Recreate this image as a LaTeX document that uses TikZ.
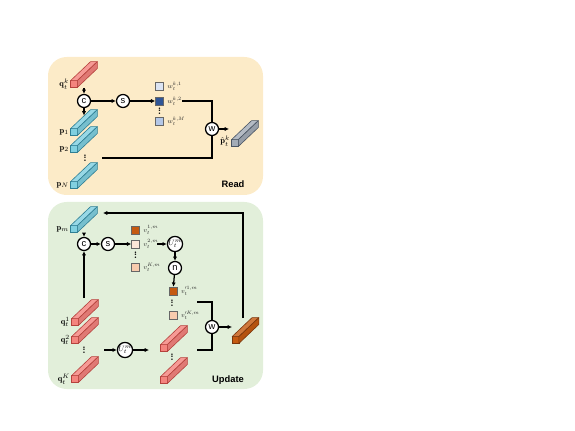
\documentclass[tikz,border=0pt]{standalone}
\usepackage{fontspec}
\setsansfont{Liberation Sans}
\usetikzlibrary{arrows.meta}

\definecolor{readbg}{HTML}{FCEBC8}
\definecolor{updbg}{HTML}{E2EFDA}
\definecolor{qred}{HTML}{F4847E}
\definecolor{qedge}{HTML}{B5423D}
\definecolor{pcyan}{HTML}{80D0E0}
\definecolor{pedge}{HTML}{2F7F94}
\definecolor{pgrey}{HTML}{A3ACB7}
\definecolor{gedge}{HTML}{4A5563}
\definecolor{vdark}{HTML}{C55A11}
\definecolor{oedge}{HTML}{7A360C}
\definecolor{vpale}{HTML}{FCE6D8}
\definecolor{vlight}{HTML}{F8CBAD}
\definecolor{wpale}{HTML}{DCE4F3}
\definecolor{wdark}{HTML}{2F5597}
\definecolor{wlight}{HTML}{B4C7E7}

% front face is a node, the two long faces are drawn from its corners
\newcommand{\prism}[5]{%
  \node[prismfront, fill=#4, draw=#5] (#1) at (#2,#3) {};
  \draw[prismedge, draw=#5, fill=#4!82!white] (#1.north west) -- ++(20,-19) -- ++(6.8,0) -- (#1.north east) -- cycle;
  \draw[prismedge, draw=#5, fill=#4!92!black] (#1.north east) -- ++(20,-19) -- ++(0,6.8) -- (#1.south east) -- cycle;
}
\newcommand{\vdt}{\vbox{\baselineskip1.9pt\lineskiplimit0pt\hbox{\bfseries .}\hbox{\bfseries .}\hbox{\bfseries .}}}
\newcommand{\sm}[1]{\scalebox{0.62}{#1}}
\newcommand{\md}[1]{\scalebox{0.8}{#1}}

\begin{document}
\begin{tikzpicture}
    [
        x = 0.75pt, y = -0.75pt,
        >={Latex[length=3.2pt, width=3.2pt]},
        panel/.style = {rounded corners = 14pt},
        prismfront/.style = {rectangle, minimum size = 5.1pt, inner sep = 0, outer sep = 0, line width = 0.45pt},
        prismedge/.style = {line width = 0.45pt, line join = round},
        op/.style = {circle, draw, fill = white, line width = 0.95pt, minimum size = 9.75pt, inner sep = 0, font = \sffamily\fontsize{7}{7}\selectfont},
        cell/.style = {rectangle, draw = black!60, line width = 0.4pt, minimum size = 6pt, inner sep = 0},
        lbl/.style = {inner sep = 0.8pt, font = \fontsize{8}{9}\selectfont},
        clbl/.style = {anchor = west, inner sep = 0.5pt, text = black!85, font = \fontsize{8}{9}\selectfont},
        dotsn/.style = {inner sep = 0, font = \fontsize{7}{7}\selectfont},
        title/.style = {font = \sffamily\bfseries\fontsize{7}{8}\selectfont},
        every path/.append style = {line width = 0.95pt}]

    \useasboundingbox (0,0) rectangle (575,431);
    \fill[panel, readbg] (48,57) rectangle (263,195);
    \fill[panel, updbg] (48,202) rectangle (263,389);

    % Read
    \prism{qk}{74}{84}{qred}{qedge}
    \node[lbl, left] (qklab) at (qk.west) {\md{$\mathbf{q}_t^k$}};
    \prism{pa}{74}{132}{pcyan}{pedge}
    \node[lbl, left] (palab) at (pa.west) {\md{$\mathbf{p}_1$}};
    \prism{pb}{74}{149}{pcyan}{pedge}
    \node[lbl, left] (pblab) at (pb.west) {\md{$\mathbf{p}_2$}};
    \node[dotsn] (pdots) at (85,158) {\vdt};
    \prism{pn}{74}{185}{pcyan}{pedge}
    \node[lbl, left] (pnlab) at (pn.west) {\md{$\mathbf{p}_N$}};

    \node[op] (ca) at (84,101) {c};
    \node[op] (sa) at (123,101) {s};
    \node[cell, fill = wpale] (wa1) at (159.5,86) {};
    \node[cell, fill = wdark] (wa2) at (159.5,101) {};
    \node[dotsn] (wadots) at (159.5,111) {\vdt};
    \node[cell, fill = wlight] (waM) at (159.5,121.5) {};
    \node[clbl] (wa1lab) at ([xshift=2pt]wa1.east) {\sm{$w_t^{k,1}$}};
    \node[clbl] (wa2lab) at ([xshift=2pt]wa2.east) {\sm{$w_t^{k,2}$}};
    \node[clbl] (waMlab) at ([xshift=2pt]waM.east) {\sm{$w_t^{k,M}$}};
    \node[op] (wr) at (212,129) {w};
    \prism{ph}{235}{143}{pgrey}{gedge}
    \node[lbl, anchor = east] (phlab) at ([yshift=1.5pt]ph.west) {\md{$\hat{\mathbf{p}}_t^k$}};
    \node[title] (readlab) at (233,184) {Read};

    \coordinate (qkout) at (84,88);
    \coordinate (pain) at (84,115.5);
    \coordinate (wout) at (182,101);
    \coordinate (pline) at (102,158);
    \coordinate (phin) at (229,129);

    \draw[->] (qkout) -- (ca);
    \draw[->] (ca) -- (pain);
    \draw[->] (ca) -- (sa);
    \draw[->] (sa) -- (wa2);
    \draw (wout) -| (wr);
    \draw (pline) -| (wr);
    \draw[->] (wr) -- (phin);

    % Update
    \prism{pm}{74}{229}{pcyan}{pedge}
    \node[lbl, left] (pmlab) at (pm.west) {\md{$\mathbf{p}_m$}};
    \node[op] (cb) at (84,244) {c};
    \node[op] (sb) at (108,244) {s};
    \node[cell, fill = vdark] (vb1) at (135.5,230) {};
    \node[cell, fill = vpale] (vb2) at (135.5,244) {};
    \node[dotsn] (vbdots) at (135.5,255) {\vdt};
    \node[cell, fill = vlight] (vbK) at (135.5,267) {};
    \node[clbl] (vb1lab) at ([xshift=2pt]vb1.east) {\sm{$v_t^{1,m}$}};
    \node[clbl] (vb2lab) at ([xshift=2pt]vb2.east) {\sm{$v_t^{2,m}$}};
    \node[clbl] (vbKlab) at ([xshift=2pt]vbK.east) {\sm{$v_t^{K,m}$}};
    \node[op] (ua) at (175,244) {\scalebox{0.72}{\fontsize{8}{9}\selectfont$U_t^m$}};
    \node[op] (na) at (175,268) {n};
    \node[cell, fill = vdark] (vc1) at (173,291) {};
    \node[dotsn] (vcdots) at (172,303) {\vdt};
    \node[cell, fill = vlight] (vcK) at (173,315.5) {};
    \node[clbl] (vc1lab) at ([xshift=2pt]vc1.east) {\sm{$v_t^{\prime 1,m}$}};
    \node[clbl] (vcKlab) at ([xshift=2pt]vcK.east) {\sm{$v_t^{\prime K,m}$}};
    \node[op] (wb) at (212,327) {w};
    \prism{ob}{235.5}{340}{vdark}{oedge}

    \prism{qa}{75}{322}{qred}{qedge}
    \node[lbl, left] (qalab) at (qa.west) {\md{$\mathbf{q}_t^1$}};
    \prism{qb}{75}{340}{qred}{qedge}
    \node[lbl, left] (qblab) at (qb.west) {\md{$\mathbf{q}_t^2$}};
    \node[dotsn] (qdots) at (84,350) {\vdt};
    \prism{qK}{75}{379}{qred}{qedge}
    \node[lbl, left] (qKlab) at (qK.west) {\md{$\mathbf{q}_t^K$}};
    \node[op] (ub) at (125,350) {\scalebox{0.72}{\fontsize{8}{9}\selectfont$U_t^m$}};
    \prism{ma}{164}{348}{qred}{qedge}
    \node[dotsn] (mdots) at (172,357) {\vdt};
    \prism{mb}{164}{380}{qred}{qedge}
    \node[title] (updlab) at (228,380) {Update};

    \coordinate (pmout) at (84,233);
    \coordinate (qaup) at (84,298);
    \coordinate (vbout) at (157,244);
    \coordinate (vcout) at (197,302);
    \coordinate (maout) at (197,350);
    \coordinate (obin) at (232,327);
    \coordinate (obup) at (243,318);
    \coordinate (pmin) at (103,213);
    \coordinate (qline) at (104,350);
    \coordinate (main) at (149,350);

    \draw[->] (pmout) -- (cb);
    \draw[->] (qaup) -- (cb);
    \draw[->] (cb) -- (sb);
    \draw[->] (sb) -- (vb2);
    \draw[->] (vbout) -- (ua);
    \draw[->] (ua) -- (na);
    \draw[->] (na) -- (vc1);
    \draw (vcout) -| (wb);
    \draw (maout) -| (wb);
    \draw[->] (wb) -- (obin);
    \draw[->] (obup) |- (pmin);
    \draw[->] (qline) -- (ub);
    \draw[->] (ub) -- (main);

\end{tikzpicture}
\end{document}
